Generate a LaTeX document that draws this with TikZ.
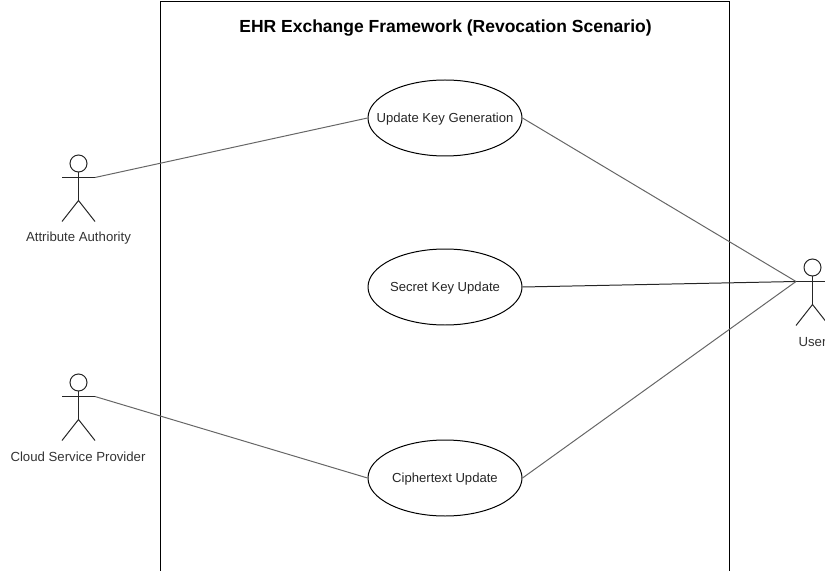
\documentclass[tikz,border=0pt]{standalone}
\usepackage{fontspec}
\setmainfont{Liberation Sans}
\usetikzlibrary{shapes.geometric}
\tikzset{
  usecase/.style={draw=black,ellipse,line width=1pt,minimum width=154bp,minimum height=76bp,inner sep=-25bp,text height=9.5bp,text depth=0pt,font=\fontsize{13.1bp}{15bp}\selectfont,text=black!85},
  actorlabel/.style={font=\fontsize{13.2bp}{15bp}\selectfont,text=black!80,inner sep=0pt},
  stick/.style={line width=1pt,draw=black!85},
  link/.style={line width=1pt,draw=black!60}
}
\newcommand{\stickman}[3]{%
  \coordinate (#1-head) at (#2,#3);
  \coordinate (#1-larm) at (#2-16.5,#3+14);
  \coordinate (#1-rarm) at (#2+16.5,#3+14);
  \draw[stick] (#2,#3) circle (8.5);
  \draw[stick] (#2,#3+8.5) -- (#2,#3+37);
  \draw[stick] (#1-larm) -- (#1-rarm);
  \draw[stick] (#2-16.5,#3+58) -- (#2,#3+37) -- (#2+16.5,#3+58);
}
\begin{document}
\begin{tikzpicture}[x=1bp,y=-1bp]
\useasboundingbox (0,0) rectangle (825,571);
\clip (0,0) rectangle (825,571);
\draw[line width=1pt] (160.5,620) -- (160.5,1.5) -- (729.5,1.5) -- (729.5,620);
\node[font=\fontsize{17.5bp}{20bp}\selectfont\bfseries,text=black,inner sep=0pt] (title) at (445.5,28) {EHR Exchange Framework (Revocation Scenario)};
\node[usecase] (ukg) at (445,118) {Update Key Generation};
\node[usecase] (sku) at (445,287) {Secret Key Update};
\node[usecase] (ctu) at (445,478) {Ciphertext Update};
\stickman{aa}{78.5}{163.5}
\stickman{csp}{78.5}{382.5}
\stickman{usr}{812.5}{267.5}
\node[actorlabel] (aal) at (78.5,238.5) {Attribute Authority};
\node[actorlabel] (cspl) at (78,457) {Cloud Service Provider};
\node[actorlabel] (usrl) at (812.5,342.5) {User};
\draw[link] (aa-rarm) -- (ukg.west);
\draw[link] (csp-rarm) -- (ctu.west);
\draw[link] (ukg.east) -- (usr-larm);
\draw[link,draw=black!85] (sku.east) -- (usr-larm);
\draw[link] (ctu.east) -- (usr-larm);
\end{tikzpicture}
\end{document}
